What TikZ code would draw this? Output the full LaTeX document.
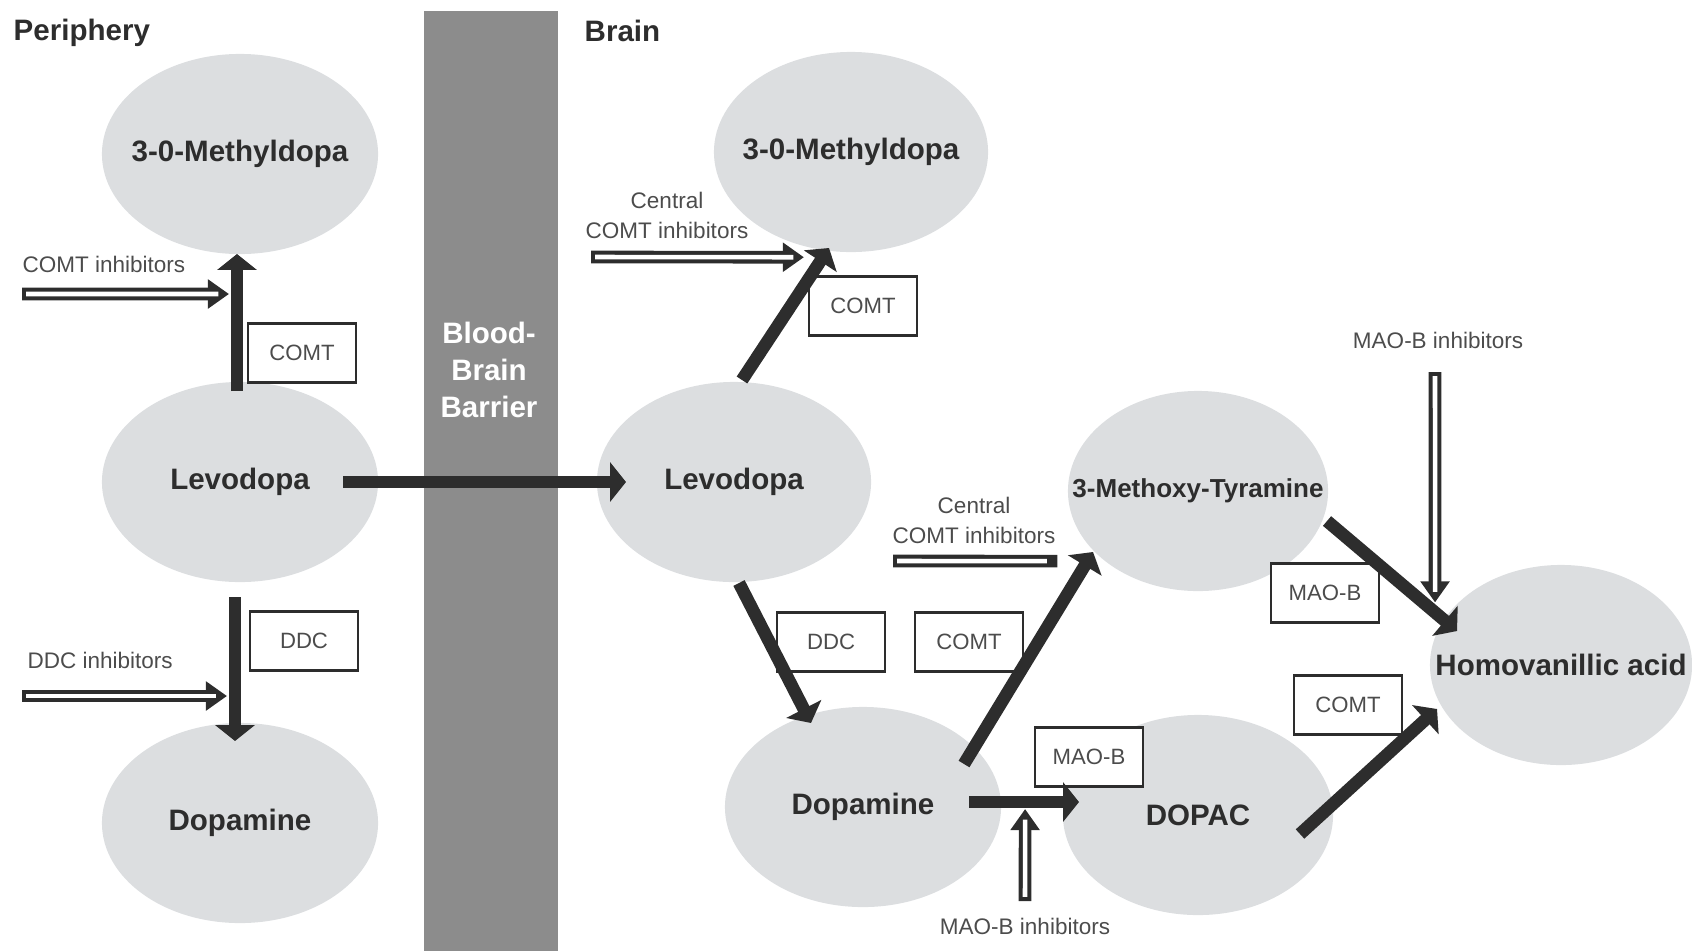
\documentclass[tikz,border=0pt]{standalone}
\usepackage{fontspec}
\setmainfont{Liberation Sans}
\usepackage{tikz}
\usetikzlibrary{arrows.meta,shapes.geometric}
\definecolor{ellgray}{RGB}{220,222,224}
\definecolor{bargray}{RGB}{140,140,140}
\definecolor{ink}{RGB}{45,45,45}

\tikzset{
  mol/.style={ellipse, fill=ellgray, minimum width=2.76cm, minimum height=2cm, inner ysep=0pt, inner xsep=-2cm,
    font=\fontsize{8.4}{10}\selectfont\bfseries, text=ink},
  enz/.style={draw=ink, line width=0.6pt, fill=white, minimum width=1.08cm, minimum height=0.59cm,
    inner sep=0pt, font=\fontsize{6.3}{7.5}\selectfont, text=ink!85},
  conv/.style={draw=ink, line width=3.6pt, -{Triangle[length=4.5pt,width=11pt]}},
  inhib/.style={draw=ink, line width=3.6pt, -{Triangle[length=6pt,width=8pt]},
    postaction={draw=white, line width=1.3pt, arrows=-, shorten <=1.2pt, shorten >=3pt}},
  note/.style={font=\fontsize{6.4}{8.5}\selectfont, text=ink!85, align=center, inner sep=0pt},
  side/.style={font=\fontsize{8.4}{10}\selectfont\bfseries, text=ink, anchor=west, inner sep=0pt},
}

\begin{document}
\begin{tikzpicture}[x=0.01cm, y=-0.01cm]
    \useasboundingbox (0,0) rectangle (1692,951);
    % Blood-brain barrier
    \fill[bargray] (424,11) rectangle (558,951);
    \node[font=\fontsize{8.4}{10.6}\selectfont\bfseries, text=white, align=center] (bbb) at (489,370) {Blood-\\Brain\\Barrier};
    \node[side] (periph) at (13,33) {Periphery};
    \node[side] (brain) at (584,31) {Brain};

    % Periphery
    \node[mol] (pMeth) at (240,154) {3-0-Methyldopa};
    \node[mol] (pLevo) at (240,482) {Levodopa};
    \node[mol] (pDopa) at (240,823) {Dopamine};

    % Brain
    \node[mol, minimum width=2.74cm] (bMeth) at (851,152) {3-0-Methyldopa};
    \node[mol, minimum width=2.74cm] (bLevo) at (734,482) {Levodopa};
    \node[mol, minimum width=2.6cm, font=\fontsize{7.4}{9}\selectfont\bfseries] (mt) at (1198,491) {3-Methoxy-Tyramine};
    \node[mol, minimum width=2.62cm] (hva) at (1561,665) {Homovanillic acid};
    \node[mol] (bDopa) at (863,807) {Dopamine};
    \node[mol, minimum width=2.7cm] (dopac) at (1198,815) {DOPAC};

    % Enzymes
    \node[enz] (comtP) at (302,353) {COMT};
    \node[enz] (ddcP) at (304,641) {DDC};
    \node[enz] (comtB) at (863,306) {COMT};
    \node[enz] (ddcB) at (831,642) {DDC};
    \node[enz] (comtM) at (969,642) {COMT};
    \node[enz] (maoD) at (1089,757) {MAO-B};
    \node[enz] (maoT) at (1325,593) {MAO-B};
    \node[enz] (comtH) at (1348,705) {COMT};

    % Conversions
    \draw[conv] ([shift={(-3,-91)}]pLevo.center) -- ([shift={(-3,100)}]pMeth.center) coordinate[pos=0.708] (hitA);
    \draw[conv] ([shift={(-5,115)}]pLevo.center) -- ([shift={(-5,-82)}]pDopa.center) coordinate[pos=0.6875] (hitB);
    \draw[conv] ([shift={(103,0)}]pLevo.center) -- ([shift={(-108,0)}]bLevo.center);
    \draw[conv] ([shift={(8,-102)}]bLevo.center) -- ([shift={(-22,96)}]bMeth.center) coordinate[pos=0.93] (hitC);
    \draw[conv] ([shift={(5,101)}]bLevo.center) -- ([shift={(-52,-84)}]bDopa.center);
    \draw[conv] ([shift={(101,-43)}]bDopa.center) -- ([shift={(-105,61)}]mt.center) coordinate[pos=0.957] (hitD);
    \draw[conv] ([shift={(106,-5)}]bDopa.center) -- ([shift={(-119,-13)}]dopac.center) coordinate[pos=0.51] (hitE);
    \draw[conv] ([shift={(129,30)}]mt.center) -- ([shift={(-104,-34)}]hva.center) coordinate[pos=0.831] (hitF);
    \draw[conv] ([shift={(102,19)}]dopac.center) -- ([shift={(-124,44)}]hva.center);

    % Inhibitors
    \coordinate (inA) at (22,294);
    \coordinate (inB) at (22,696);
    \coordinate (inC) at (591,257);
    \coordinate (inD) at (893,561);
    \coordinate (inE) at (1025,901);
    \coordinate (inF) at (1435,372);
    \draw[inhib] (inA) -- ([shift={(-8,0)}]hitA);
    \draw[inhib] (inB) -- ([shift={(-8,0)}]hitB);
    \draw[inhib] (inC) -- ([shift={(-19,0)}]hitC);
    \draw[inhib, arrows=-] (inD) -- ([shift={(-30,0)}]hitD);
    \draw[inhib] (inE) -- ([shift={(0,7)}]hitE);
    \draw[inhib] (inF) -- ([shift={(0,-10)}]hitF);
    \node[note, anchor=west] (lblA) at (22,264) {COMT inhibitors};
    \node[note, anchor=west] (lblB) at (27,660) {DDC inhibitors};
    \node[note] (lblC) at (667,215) {Central\\COMT inhibitors};
    \node[note] (lblD) at (974,520) {Central\\COMT inhibitors};
    \node[note] (lblE) at (1025,926) {MAO-B inhibitors};
    \node[note] (lblF) at (1438,340) {MAO-B inhibitors};
\end{tikzpicture}
\end{document}
